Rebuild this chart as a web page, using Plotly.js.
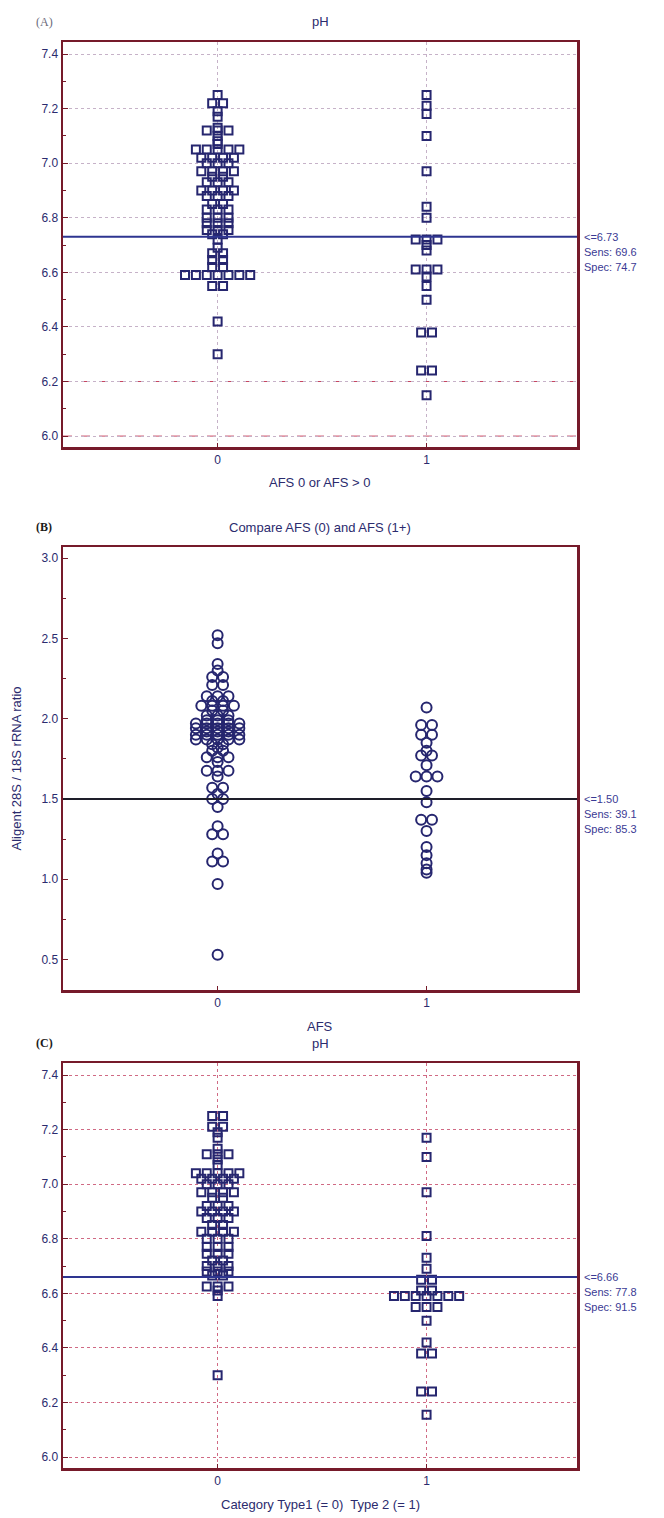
<!DOCTYPE html>
<html><head><meta charset="utf-8">
<script src="https://cdn.plot.ly/plotly-3.0.1.min.js"></script>
<style>html,body{margin:0;padding:0;background:#fff}#chart{width:664px;height:1518px}</style>
</head><body><div id="chart"></div>
<script>
// ---------- DATA ----------
const categories = [0, 1];
const xTickLabels = ['0', '1'];

// Panel A: pH, AFS 0 vs AFS > 0
const phA_group0 = [7.25, 7.22, 7.22, 7.19, 7.17, 7.13, 7.12, 7.12, 7.12, 7.10, 7.08, 7.07,
  7.05, 7.05, 7.05, 7.05, 7.05, 7.02, 7.02, 7.02, 7.02, 7.00, 7.00, 7.00,
  6.97, 6.97, 6.97, 6.97, 6.95, 6.95, 6.93, 6.93, 6.93, 6.90, 6.90, 6.90, 6.90,
  6.88, 6.88, 6.88, 6.85, 6.85, 6.83, 6.83, 6.83, 6.80, 6.80, 6.80, 6.78, 6.78, 6.78,
  6.755, 6.755, 6.755, 6.74, 6.74,
  6.72, 6.69, 6.67, 6.67, 6.645, 6.645, 6.62, 6.62,
  6.59, 6.59, 6.59, 6.59, 6.59, 6.59, 6.59, 6.55, 6.55, 6.42, 6.30];
const phA_group1 = [7.25, 7.21, 7.18, 7.10, 6.97, 6.84, 6.80, 6.72, 6.72, 6.72, 6.70, 6.68,
  6.61, 6.61, 6.61, 6.585, 6.55, 6.50, 6.38, 6.38, 6.24, 6.24, 6.15];
const criterionA = 6.73;
const statsA = ['<=6.73', 'Sens: 69.6', 'Spec: 74.7'];

// Panel B: 28S/18S rRNA ratio
const rnaB_group0 = [2.52, 2.47, 2.34, 2.30, 2.26, 2.26, 2.21, 2.21, 2.14, 2.14, 2.14, 2.11, 2.11,
  2.08, 2.08, 2.08, 2.08, 2.05, 2.05, 2.02, 2.02, 2.02, 1.99, 1.99, 1.99,
  1.97, 1.97, 1.97, 1.97, 1.97, 1.94, 1.94, 1.94, 1.94, 1.94, 1.92, 1.92, 1.92,
  1.90, 1.90, 1.90, 1.90, 1.90, 1.87, 1.87, 1.87, 1.87, 1.87, 1.84, 1.84, 1.82, 1.80, 1.80,
  1.76, 1.76, 1.76, 1.73, 1.675, 1.675, 1.675, 1.64, 1.57, 1.57, 1.53,
  1.50, 1.50, 1.45, 1.33, 1.28, 1.28, 1.16, 1.11, 1.11, 0.97, 0.53];
const rnaB_group1 = [2.07, 1.96, 1.96, 1.90, 1.90, 1.85, 1.80, 1.77, 1.77, 1.71, 1.64, 1.64, 1.64, 1.55,
  1.48, 1.37, 1.37, 1.30, 1.20, 1.15, 1.10, 1.06, 1.04];
const criterionB = 1.50;
const statsB = ['<=1.50', 'Sens: 39.1', 'Spec: 85.3'];

// Panel C: pH, Type 1 vs Type 2
const phC_group0 = [7.25, 7.25, 7.21, 7.21, 7.19, 7.17, 7.13, 7.11, 7.11, 7.11, 7.09, 7.07,
  7.04, 7.04, 7.04, 7.04, 7.04, 7.02, 7.02, 7.02, 7.02, 7.00, 7.00, 7.00,
  6.97, 6.97, 6.97, 6.97, 6.95, 6.95, 6.92, 6.92, 6.92, 6.90, 6.90, 6.90, 6.90,
  6.876, 6.876, 6.876, 6.85, 6.85, 6.826, 6.826, 6.826, 6.826, 6.80, 6.80, 6.80,
  6.77, 6.77, 6.77, 6.745, 6.745, 6.745, 6.72, 6.72, 6.70, 6.70, 6.70, 6.68, 6.68, 6.68, 6.665, 6.665,
  6.625, 6.625, 6.625, 6.61, 6.59, 6.30];
const phC_group1 = [7.17, 7.10, 6.97, 6.81, 6.73, 6.69, 6.65, 6.65, 6.61, 6.61,
  6.59, 6.59, 6.59, 6.59, 6.59, 6.59, 6.59, 6.55, 6.55, 6.55, 6.50, 6.42, 6.38, 6.38, 6.24, 6.24, 6.155];
const criterionC = 6.66;
const statsC = ['<=6.66', 'Sens: 77.8', 'Spec: 91.5'];

const titles = ['pH', 'Compare AFS (0) and AFS (1+)', 'pH'];
const panelLabels = ['(A)', '(B)', '(C)'];
const xTitles = ['AFS 0 or AFS > 0', 'AFS', 'Category Type1 (= 0)  Type 2 (= 1)'];
const yTitleB = 'Aligent 28S / 18S rRNA ratio';
const phTicks = [6.0, 6.2, 6.4, 6.6, 6.8, 7.0, 7.2, 7.4];
const rnaTicks = [0.5, 1.0, 1.5, 2.0, 2.5, 3.0];
const redGridA = [6.0, 6.2];

// ---------- DRAWING ----------
const NAVY = '#26266f';
const FRAME = '#761a2a';
const TXT = '#2b2b6e';
const STEP = 0.052;

function swarm(vals, cat) {
  const counts = {}, seen = {};
  vals.forEach(v => { counts[v] = (counts[v] || 0) + 1; });
  return vals.map(v => { const n = counts[v]; const i = seen[v] || 0; seen[v] = i + 1; return cat + (i - (n - 1) / 2) * STEP; });
}

function pts(vals, cat, xa, ya, sym, size, lw) {
  return { type: 'scatter', mode: 'markers', x: swarm(vals, cat), y: vals, xaxis: xa, yaxis: ya,
    hoverinfo: 'y', showlegend: false,
    marker: { symbol: sym, size: size, color: NAVY, line: { color: NAVY, width: lw } } };
}

const data = [
  pts(phA_group0, categories[0], 'x', 'y', 'square-open', 8, 2),
  pts(phA_group1, categories[1], 'x', 'y', 'square-open', 8, 2),
  pts(rnaB_group0, categories[0], 'x2', 'y2', 'circle-open', 10, 2),
  pts(rnaB_group1, categories[1], 'x2', 'y2', 'circle-open', 10, 2),
  pts(phC_group0, categories[0], 'x3', 'y3', 'square-open', 8, 2),
  pts(phC_group1, categories[1], 'x3', 'y3', 'square-open', 8, 2)
];

const W = 664, H = 1518;
const xDom = [63 / W, 577 / W];
const frames = [[42, 447], [547, 990], [1063, 1468]];
const yDoms = frames.map(f => [1 - f[1] / H, 1 - f[0] / H]);
const xRange = [-0.74, 1.72];

const font = { family: 'Liberation Sans, Arial, sans-serif', size: 12, color: TXT };

function xax(dom, showgrid, gridcolor) {
  return { domain: xDom, anchor: dom, range: xRange, tickvals: categories, ticktext: xTickLabels,
    showline: true, mirror: true, linecolor: FRAME, linewidth: 2.5, ticks: 'inside', ticklen: 4, tickcolor: FRAME,
    showgrid: showgrid, gridcolor: gridcolor, griddash: 'dot', gridwidth: 1, zeroline: false,
    tickfont: { family: font.family, size: 12, color: TXT }, fixedrange: true };
}
function yax(anchor, dom, range, ticks, showgrid, gridcolor) {
  return { domain: dom, anchor: anchor, range: range, tickvals: ticks, ticktext: ticks.map(t => t.toFixed(1)),
    showline: true, mirror: true, linecolor: FRAME, linewidth: 2.5, ticks: 'inside', ticklen: 5, tickcolor: FRAME,
    minor: { ticks: 'inside', ticklen: 3, tickcolor: FRAME, dtick: (ticks[1] - ticks[0]) / 2, showgrid: false },
    showgrid: showgrid, gridcolor: gridcolor, griddash: 'dot', gridwidth: 1, zeroline: false,
    tickfont: { family: font.family, size: 12, color: TXT }, fixedrange: true };
}

const layout = {
  width: W, height: H, margin: { l: 0, r: 0, t: 0, b: 0 }, paper_bgcolor: '#fff', plot_bgcolor: '#fff',
  font: font, showlegend: false,
  xaxis: xax('y', true, '#c6b2c8'),
  yaxis: yax('x', yDoms[0], [5.96, 7.444], phTicks, true, '#c6b2c8'),
  xaxis2: xax('y2', false, '#fff'),
  yaxis2: yax('x2', yDoms[1], [0.31, 3.069], rnaTicks, false, '#fff'),
  xaxis3: xax('y3', true, '#d06a84'),
  yaxis3: yax('x3', yDoms[2], [5.96, 7.444], phTicks, true, '#d06a84'),
  shapes: [], annotations: []
};

redGridA.forEach(v => layout.shapes.push({ type: 'line', xref: 'x domain', yref: 'y', x0: 0, x1: 1, y0: v, y1: v,
  line: { color: '#c8455f', width: 1, dash: 'dash' }, layer: 'below' }));

[[criterionA, 'y', 'x', '#2e3590'], [criterionB, 'y2', 'x2', '#1e1e2a'], [criterionC, 'y3', 'x3', '#2e3590']].forEach(c => {
  layout.shapes.push({ type: 'line', xref: c[2] + ' domain', yref: c[1], x0: 0, x1: 1, y0: c[0], y1: c[0],
    line: { color: c[3], width: 2 }, layer: 'above' });
});

[[statsA, criterionA, 'y'], [statsB, criterionB, 'y2'], [statsC, criterionC, 'y3']].forEach(s => {
  s[0].forEach((t, i) => layout.annotations.push({ text: t, xref: 'paper', yref: s[2], x: 582 / W, y: s[1],
    xanchor: 'left', yanchor: 'middle', yshift: -i * 15, showarrow: false,
    font: { family: font.family, size: 11, color: '#3a3a94' } }));
});

frames.forEach((f, i) => {
  layout.annotations.push({ text: titles[i], xref: 'paper', yref: 'paper', x: (xDom[0] + xDom[1]) / 2, y: 1 - (f[0] - 20) / H,
    xanchor: 'center', yanchor: 'middle', showarrow: false, font: { family: font.family, size: 13, color: TXT } });
  layout.annotations.push({ text: i === 0 ? panelLabels[i] : '<b>' + panelLabels[i] + '</b>', xref: 'paper', yref: 'paper', x: 34 / W, y: 1 - (f[0] - 20) / H,
    xanchor: 'left', yanchor: 'middle', showarrow: false,
    font: { family: 'Liberation Serif, Times New Roman, serif', size: 12, color: i === 0 ? '#6a6a7a' : '#1a1a1a' } });
  layout.annotations.push({ text: xTitles[i], xref: 'paper', yref: 'paper', x: (xDom[0] + xDom[1]) / 2, y: 1 - (f[1] + 36) / H,
    xanchor: 'center', yanchor: 'middle', showarrow: false, font: { family: font.family, size: 13, color: TXT } });
});
layout.annotations.push({ text: yTitleB, xref: 'paper', yref: 'paper', x: 16 / W, y: (yDoms[1][0] + yDoms[1][1]) / 2,
  xanchor: 'center', yanchor: 'middle', textangle: -90, showarrow: false, font: { family: font.family, size: 13, color: TXT } });

Plotly.newPlot('chart', data, layout, { staticPlot: true, displayModeBar: false });
</script>
</body></html>
